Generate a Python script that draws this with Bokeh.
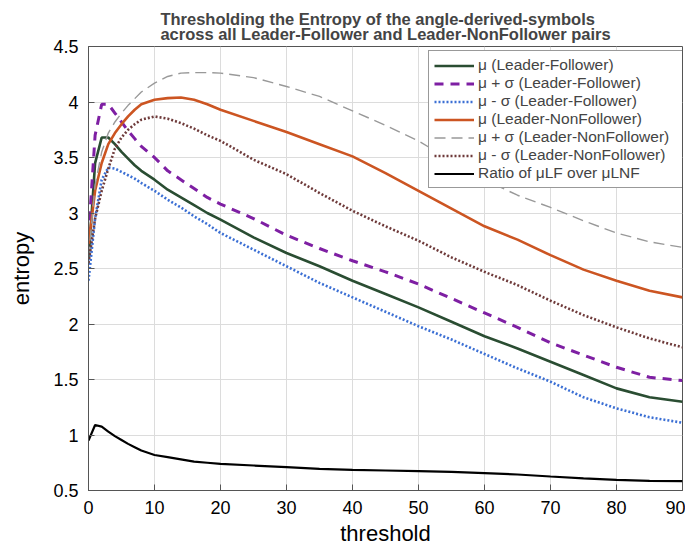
from bokeh.plotting import figure
from bokeh.models import Range1d, FixedTicker, NumeralTickFormatter, Legend, LegendItem
from bokeh.embed import file_html
from bokeh.resources import INLINE

thresholds = [0, 1, 2, 3, 4, 5, 6, 7, 8, 10, 12, 14, 16, 18, 20, 25, 30, 35, 40, 45,
              50, 55, 60, 65, 70, 75, 80, 85, 90]

mu_lf = [2.58, 3.45, 3.68, 3.68, 3.62, 3.55, 3.49, 3.43, 3.38, 3.30, 3.21, 3.14, 3.07, 3.00, 2.94,
         2.78, 2.64, 2.52, 2.39, 2.27, 2.15, 2.02, 1.89, 1.78, 1.66, 1.54, 1.42, 1.34, 1.30]
mu_plus_lf = [2.79, 3.70, 3.98, 3.98, 3.90, 3.82, 3.74, 3.67, 3.60, 3.50, 3.38, 3.30, 3.22, 3.14, 3.08,
              2.95, 2.80, 2.68, 2.57, 2.47, 2.36, 2.23, 2.10, 1.97, 1.83, 1.72, 1.61, 1.52, 1.49]
mu_minus_lf = [2.39, 2.95, 3.30, 3.41, 3.40, 3.37, 3.34, 3.31, 3.27, 3.20, 3.12, 3.05, 2.97, 2.90, 2.82,
               2.67, 2.52, 2.37, 2.24, 2.11, 1.98, 1.86, 1.73, 1.60, 1.48, 1.34, 1.24, 1.16, 1.11]
mu_lnf = [2.72, 3.20, 3.45, 3.62, 3.72, 3.80, 3.87, 3.93, 3.98, 4.02, 4.035, 4.04, 4.02, 3.98, 3.93,
          3.83, 3.73, 3.62, 3.51, 3.36, 3.20, 3.04, 2.88, 2.76, 2.62, 2.49, 2.39, 2.30, 2.24]
mu_plus_lnf = [2.60, 3.25, 3.55, 3.72, 3.82, 3.90, 3.97, 4.03, 4.09, 4.17, 4.23, 4.26, 4.265, 4.265, 4.26,
               4.22, 4.14, 4.05, 3.92, 3.79, 3.65, 3.47, 3.30, 3.16, 3.05, 2.93, 2.82, 2.74, 2.69]
mu_minus_lnf = [2.55, 2.95, 3.20, 3.40, 3.58, 3.68, 3.75, 3.80, 3.84, 3.87, 3.85, 3.81, 3.76, 3.70, 3.65,
                3.48, 3.35, 3.18, 3.02, 2.88, 2.75, 2.60, 2.47, 2.35, 2.21, 2.08, 1.97, 1.87, 1.79]
ratio = [0.95, 1.09, 1.075, 1.03, 0.99, 0.955, 0.92, 0.89, 0.86, 0.82, 0.80, 0.78, 0.76, 0.75, 0.74,
         0.725, 0.71, 0.695, 0.686, 0.68, 0.674, 0.668, 0.656, 0.644, 0.626, 0.61, 0.596, 0.587, 0.584]

x_ticks = [0, 10, 20, 30, 40, 50, 60, 70, 80, 90]
y_ticks = [0.5, 1, 1.5, 2, 2.5, 3, 3.5, 4, 4.5]

labels = ["μ (Leader-Follower)", "μ + σ (Leader-Follower)", "μ - σ (Leader-Follower)",
          "μ (Leader-NonFollower)", "μ + σ (Leader-NonFollower)", "μ - σ (Leader-NonFollower)",
          "Ratio of μLF over μLNF"]

FONT = "Liberation Sans"

p = figure(width=685, height=552, output_backend="svg", toolbar_location=None,
           x_range=Range1d(0, 90), y_range=Range1d(0.5, 4.5),
           min_border_left=88, min_border_right=3, min_border_top=46, min_border_bottom=62)

p.title.text = ("Thresholding the Entropy of the angle-derived-symbols\n"
                "across all Leader-Follower and Leader-NonFollower pairs")
p.title.align = "center"
p.title.text_font = FONT
p.title.text_font_style = "bold"
p.title.text_font_size = "16.5px"
p.title.text_line_height = 0.85
p.title.standoff = 7

p.xaxis.ticker = FixedTicker(ticks=x_ticks)
p.yaxis.ticker = FixedTicker(ticks=y_ticks)
p.yaxis.formatter = NumeralTickFormatter(format="0.[0]")
p.xaxis.axis_label = "threshold"
p.yaxis.axis_label = "entropy"
for ax in (p.xaxis, p.yaxis):
    ax.major_label_text_font = FONT
    ax.major_label_text_font_size = "18px"
    ax.major_label_text_color = "black"
    ax.axis_label_text_font = FONT
    ax.axis_label_text_font_size = "22px"
    ax.axis_label_text_font_style = "normal"
    ax.axis_label_text_color = "black"
    ax.axis_line_color = "#555555"
    ax.major_tick_line_color = "#555555"
    ax.major_tick_in = 6
    ax.major_tick_out = 0
    ax.minor_tick_line_color = None
    ax.major_label_standoff = 10
p.xaxis.axis_label_standoff = 4
p.yaxis.axis_label_standoff = 16

p.xgrid.grid_line_color = "#dcdcdc"
p.ygrid.grid_line_color = "#dcdcdc"
p.outline_line_color = "#555555"
p.outline_line_width = 1

r1 = p.line(thresholds, mu_lf, line_color="#2a4d32", line_width=2.6)
r2 = p.line(thresholds, mu_plus_lf, line_color="#7e1fa3", line_width=3, line_dash="9 7")
r3 = p.line(thresholds, mu_minus_lf, line_color="#3b6fd4", line_width=2.6, line_dash="2 2")
r4 = p.line(thresholds, mu_lnf, line_color="#cc5522", line_width=2.6)
r5 = p.line(thresholds, mu_plus_lnf, line_color="#999999", line_width=1.4, line_dash="11 6")
r6 = p.line(thresholds, mu_minus_lnf, line_color="#6e3a3a", line_width=2.6, line_dash="2 2")
r7 = p.line(thresholds, ratio, line_color="black", line_width=2.2)

items = [LegendItem(label=lab, renderers=[r]) for lab, r in
         zip(labels, [r1, r2, r3, r4, r5, r6, r7])]
legend = Legend(items=items, location=(340, 302), glyph_width=40, glyph_height=17,
                label_height=17, label_width=201, spacing=0, padding=5, label_standoff=4,
                label_text_font=FONT, label_text_font_size="15.5px",
                border_line_color="#333333", border_line_width=1,
                background_fill_alpha=1.0, margin=0)
p.add_layout(legend, "center")

open("out.html", "w").write(file_html(p, INLINE))
